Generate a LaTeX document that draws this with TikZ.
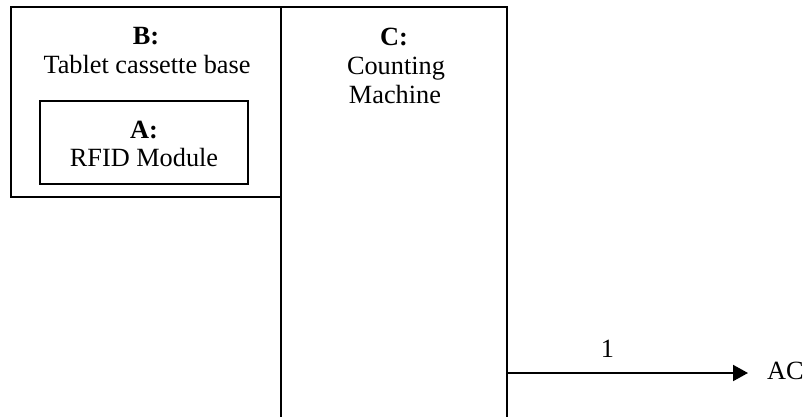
\documentclass[tikz,border=0pt]{standalone}
\usepackage{fontspec}
\setmainfont{Liberation Serif}
\usetikzlibrary{arrows.meta}
\begin{document}
\begin{tikzpicture}[x=1pt,y=-1pt,
  frame/.style={draw=black, line width=1.8pt, inner sep=0pt},
  lbl/.style={anchor=base, inner sep=0pt, font=\fontsize{26.3}{29}\selectfont},
  flow/.style={line width=2pt, -{Triangle[length=15pt,width=16pt]}}]
\useasboundingbox (0,0) rectangle (807,416);
\clip (0,0) rectangle (807,416);
% outer base with the module inside it
\node[frame, minimum width=270pt, minimum height=190pt] (B) at (146,102) {};
\node[frame, minimum width=208pt, minimum height=83pt] (A) at (144,142.5) {};
% counting machine, running off the lower edge
\node[frame, minimum width=226pt, minimum height=433pt] (C) at (394,223.5) {};
% box captions
\node[lbl] (Bt) at (146,44) {\textbf{B:}};
\node[lbl] (Bn) at (147,73) {Tablet cassette base};
\node[lbl] (At) at (144,138) {\textbf{A:}};
\node[lbl] (An) at (144,166) {RFID Module};
\node[lbl] (Ct) at (394,45) {\textbf{C:}};
\node[lbl] (Cn1) at (396,74) {Counting};
\node[lbl] (Cn2) at (395,103) {Machine};
% output signal
\node[lbl, anchor=base west] (ac) at (767,379) {AC};
\coordinate (tip) at (748,373);
\draw[flow] (C.east |- tip) -- node[lbl, pos=0.415, anchor=south, above=15pt] {1} (tip);
\end{tikzpicture}
\end{document}
